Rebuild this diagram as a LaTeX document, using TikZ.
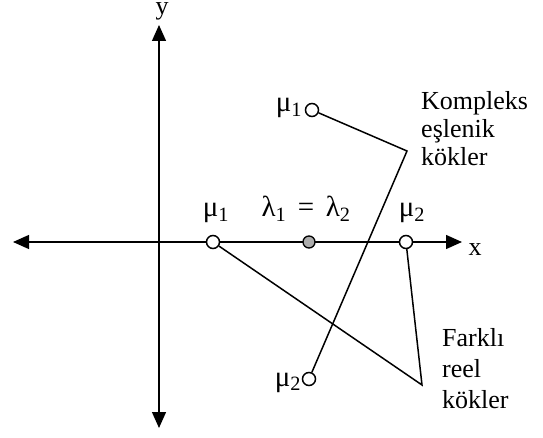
\documentclass[tikz,border=0pt]{standalone}
\usepackage{fontspec}
\setmainfont{Liberation Serif}
\usetikzlibrary{arrows.meta}

\begin{document}
\begin{tikzpicture}[x=1pt,y=-1pt,
  every node/.style={font=\fontsize{26}{28}\selectfont},
  greek/.style={anchor=base,font=\fontsize{29}{32}\selectfont},
  root/.style={draw,circle,fill=white,inner sep=0pt,minimum size=13pt,line width=1.5pt},
  rootdot/.style={draw,circle,fill=gray!65,inner sep=0pt,minimum size=12pt,line width=1.3pt},
  axis/.style={line width=1.3pt,{Triangle[length=16pt,width=14pt]}-{Triangle[length=16pt,width=14pt]}}]
  \useasboundingbox (0,0) rectangle (543,438);
  % eksenler
  \draw[axis] (13,242) -- (462,242);
  \draw[axis] (159,428) -- (159,25);
  \node[anchor=base,inner sep=0pt] (ylab) at (162,15) {y};
  \node[anchor=base] (xlab) at (475,255) {x};
  % kokler
  \node[root] (m1) at (213,242) {};
  \node[rootdot] (lam) at (309,242) {};
  \node[root] (m2) at (406,242) {};
  \node[root] (cm1) at (312,110) {};
  \node[root] (cm2) at (309,379) {};
  \node[greek] (m1lab) at (216,217) {μ\textsubscript{1}};
  \node[greek] (lamlab) at (306,217) {λ\textsubscript{1}\hspace{0.4em}=\hspace{0.4em}λ\textsubscript{2}};
  \node[greek] (m2lab) at (412,217) {μ\textsubscript{2}};
  \node[greek] (cm1lab) at (289,112) {μ\textsubscript{1}};
  \node[greek] (cm2lab) at (288,386) {μ\textsubscript{2}};
  % aciklamalar
  \coordinate (kc) at (407,151);
  \coordinate (rc) at (422,385);
  \draw[line width=1.5pt] (cm1) -- (kc) -- (cm2);
  \draw[line width=1.5pt] (m1) -- (rc) -- (m2);
  \node[anchor=north west,align=left,inner sep=0pt] (klab) at (421,91) {Kompleks\\eşlenik\\kökler};
  \node[anchor=north west,align=left,inner sep=0pt,font=\fontsize{26}{31}\selectfont] (flab) at (442,328) {Farklı\\reel\\kökler};
\end{tikzpicture}
\end{document}
